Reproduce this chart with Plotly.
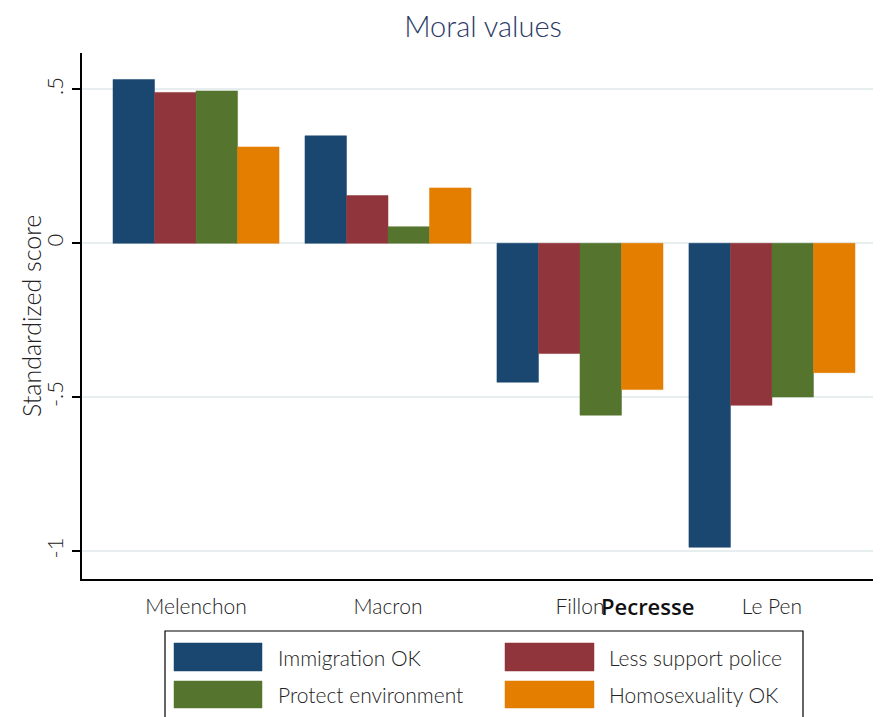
import plotly.graph_objects as go

candidates = ["Melenchon", "Macron", "Fillon", "Le Pen"]
series_names = ["Immigration OK", "Less support police", "Protect environment", "Homosexuality OK"]
immigration_ok = [0.532, 0.349, -0.451, -0.987]
less_support_police = [0.490, 0.155, -0.358, -0.526]
protect_environment = [0.495, 0.054, -0.558, -0.499]
homosexuality_ok = [0.313, 0.180, -0.475, -0.420]
extra_label = "Pecresse"
y_title = "Standardized score"
y_tick_values = [-1, -0.5, 0, 0.5]
y_tick_labels = ["-1", "-.5", "0", ".5"]

colors = ["#1a476f", "#90353b", "#55752f", "#e37e00"]
series_values = [immigration_ok, less_support_police, protect_environment, homosexuality_ok]

FONT = "Lato"
OFF = 8  # page body margin
W, H = 881 - OFF, 717 - OFF
PLOT_LEFT, PLOT_TOP, PLOT_BOTTOM = 82, 53, 579
L, R, T, B = PLOT_LEFT - OFF, 0, PLOT_TOP - OFF, 717 - PLOT_BOTTOM
plot_w = W - L - R
plot_h = H - T - B

def px_x(p):
    return (p - PLOT_LEFT) / plot_w

def px_y(p):
    return (PLOT_BOTTOM - p) / plot_h

xpos = list(range(len(candidates)))

fig = go.Figure()
for name, vals, col in zip(series_names, series_values, colors):
    fig.add_trace(go.Bar(
        x=xpos, y=vals, name=name,
        marker=dict(color=col, line=dict(color=col, width=0.5)),
        showlegend=False,
    ))

fig.update_layout(
    width=W, height=H,
    margin=dict(l=L, r=R, t=T, b=B, pad=0),
    paper_bgcolor="white", plot_bgcolor="white",
    barmode="group", bargap=0.135, bargroupgap=0,
    font=dict(family=FONT, color="#222222"),
    title=dict(text="Moral values", xref="paper", x=px_x(483), xanchor="center",
               y=1 - (27 - OFF) / H, yanchor="middle",
               font=dict(family=FONT, size=29, color="#2b3a67", weight=300)),
    showlegend=False,
)

fig.update_xaxes(
    range=[-0.594, 3.568],
    tickvals=xpos, ticktext=candidates,
    tickfont=dict(family=FONT, size=21, color="#222222", weight=300),
    showgrid=False, zeroline=False,
    showline=True, linecolor="#000000", linewidth=1.5,
    ticks="", ticklabelstandoff=8,
)
fig.update_yaxes(
    range=[-1.090, 0.618],
    tickvals=y_tick_values, ticktext=y_tick_labels,
    tickangle=-90,
    tickfont=dict(family=FONT, size=22, color="#222222", weight=300),
    showgrid=True, gridcolor="#e6eef0", gridwidth=1.5,
    zeroline=False,
    showline=True, linecolor="#000000", linewidth=1.5,
    ticks="outside", ticklen=8, tickwidth=1.5, tickcolor="#000000",
)

# y-axis title placed as rotated text
fig.add_annotation(
    x=px_x(31), xref="paper", y=px_y(316), yref="paper",
    text=y_title, textangle=-90, showarrow=False,
    xanchor="center", yanchor="middle",
    font=dict(family=FONT, size=25, color="#222222", weight=300),
)

# overlapping extra candidate label
fig.add_annotation(
    x=2.354, xref="x", y=px_y(606), yref="paper",
    text=extra_label, showarrow=False, xanchor="center", yanchor="middle",
    font=dict(family="Open Sans", size=22, color="#111111", weight=600),
)

# legend box (drawn by hand to match the wide swatches)
fig.add_shape(type="rect", xref="paper", yref="paper",
              x0=px_x(165), x1=px_x(803), y0=px_y(740), y1=px_y(631),
              line=dict(color="#000000", width=1.2), fillcolor="white", layer="above")

legend_cells = [
    (174, 262, 643, 671, 276),
    (505, 594, 643, 671, 607),
    (174, 262, 681, 708, 276),
    (505, 594, 681, 708, 607),
]
for (x0, x1, y0, y1, tx), name, col in zip(legend_cells, series_names, colors):
    fig.add_shape(type="rect", xref="paper", yref="paper",
                  x0=px_x(x0), x1=px_x(x1), y0=px_y(y1), y1=px_y(y0),
                  line=dict(color=col, width=0.5), fillcolor=col, layer="above")
    fig.add_annotation(x=px_x(tx), xref="paper", y=px_y((y0 + y1) / 2), yref="paper",
                       text=name, showarrow=False, xanchor="left", yanchor="middle",
                       font=dict(family=FONT, size=21, color="#222222", weight=300))

fig.write_html("out.html")
